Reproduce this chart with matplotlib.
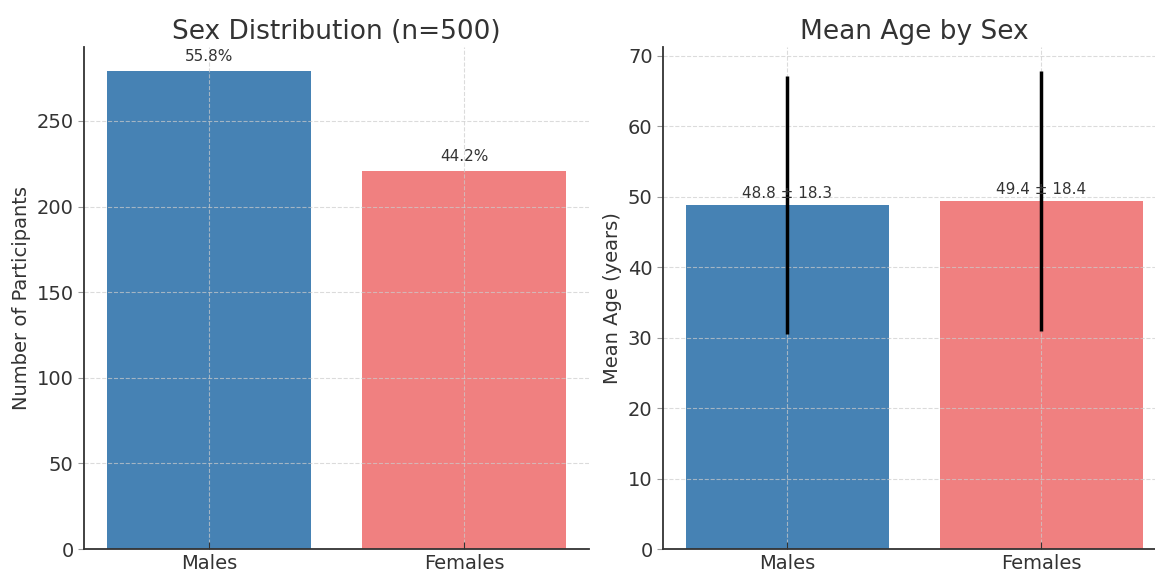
import numpy as np
import matplotlib
matplotlib.use("Agg")
import matplotlib.pyplot as plt

# Data
sexes = ["Males", "Females"]
counts = [279, 221]
n_total = 500
mean_age = [48.8, 49.4]
sd_age = [18.3, 18.4]
colors = ["#4682B4", "#F08080"]

plt.rcParams['font.family'] = ['DejaVu Sans']
plt.rcParams['text.color'] = '#333333'
plt.rcParams['axes.labelcolor'] = '#333333'
plt.rcParams['xtick.color'] = '#333333'
plt.rcParams['ytick.color'] = '#333333'

fig = plt.figure(figsize=(11.55, 5.72), dpi=100)
ax1 = fig.add_axes([0.0727, 0.0402, 0.4372, 0.877])
ax2 = fig.add_axes([0.574, 0.0402, 0.4355, 0.877])


def style(ax):
    ax.spines['top'].set_visible(False)
    ax.spines['right'].set_visible(False)
    for s in ['left', 'bottom']:
        ax.spines[s].set_color('#333333')
        ax.spines[s].set_linewidth(1.3)
    ax.grid(True, linestyle='--', color='#cccccc', linewidth=0.8, alpha=0.7)
    ax.tick_params(axis='both', labelsize=14)
    ax.tick_params(axis='x', direction='in', length=5)
    ax.tick_params(axis='y', length=4, color='#999999')


# Left: counts
bars = ax1.bar(sexes, counts, color=colors, width=0.8)
for b, c in zip(bars, counts):
    ax1.text(b.get_x() + b.get_width() / 2, c + 4, f"{c / n_total * 100:.1f}%",
             ha='center', va='bottom', fontsize=11)
ax1.set_title(f"Sex Distribution (n={n_total})", fontsize=19)
ax1.set_ylabel("Number of Participants", fontsize=14)
ax1.set_yticks([0, 50, 100, 150, 200, 250])
style(ax1)

# Right: mean age
bars2 = ax2.bar(sexes, mean_age, yerr=sd_age, color=colors, width=0.8,
                error_kw=dict(ecolor='black', elinewidth=2.5, capsize=0))
for b, m, s in zip(bars2, mean_age, sd_age):
    ax2.text(b.get_x() + b.get_width() / 2, m + 0.6, f"{m:.1f} ± {s:.1f}",
             ha='center', va='bottom', fontsize=11)
ax2.set_title("Mean Age by Sex", fontsize=19)
ax2.set_ylabel("Mean Age (years)", fontsize=14)
style(ax2)

fig.savefig("out.png", dpi=100)
